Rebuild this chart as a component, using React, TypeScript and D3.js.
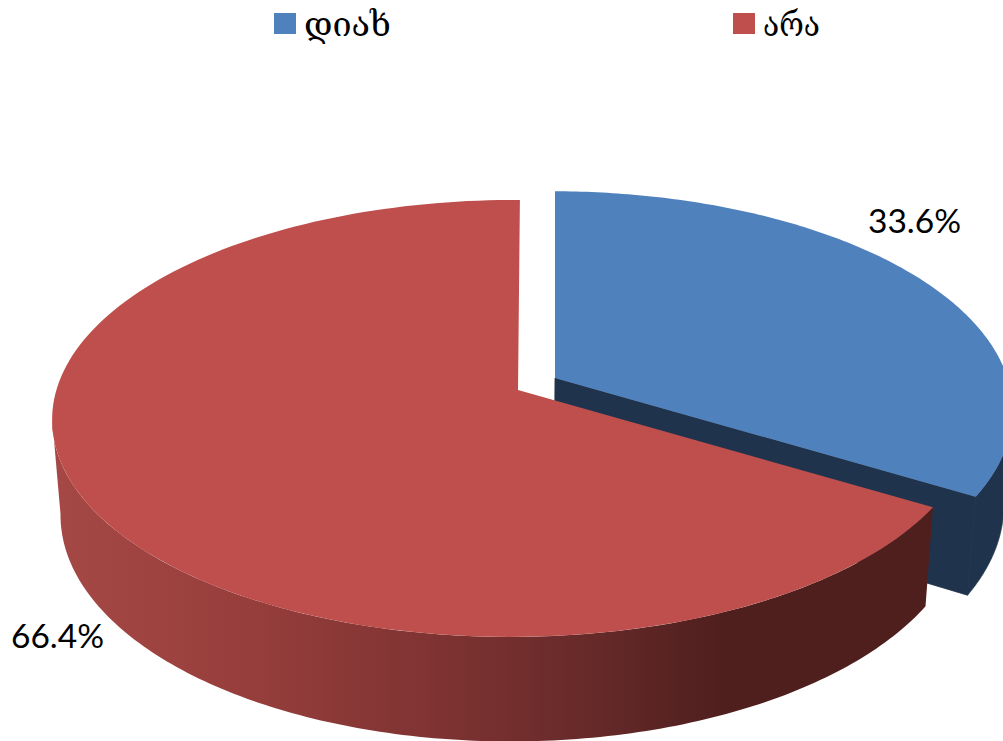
import React from "react";
import * as d3 from "d3";

const categories = ["დიახ", "არა"];
const shares = [33.6, 66.4];
const percentLabels = ["33.6%", "66.4%"];
const topColors = ["#4f81bd", "#bf4f4c"];
const W = 1003, H = 741;
const CX = 518, CY = 390, BX = 457, BY = 214.8, PU = 0.01;

type Off = { dx: number; dy: number; skew: number; pv: number };

const depthY = d3.scaleLinear().domain([507, 637]).range([606, 741.5]);
const depthX = (x: number) => CX + (x - CX) * 0.982;

function topPoint(theta: number, r: number, o: Off): [number, number] {
  const u = r * Math.sin(theta), v = r * Math.cos(theta);
  const s = 1 / (1 + o.pv * v + PU * u);
  const y = CY - BY * v * s;
  return [CX + BX * u * s + (CY - y) * o.skew + o.dx, y + o.dy];
}
function bottomPoint(theta: number, r: number, o: Off): [number, number] {
  const [x, y] = topPoint(theta, r, o);
  return [depthX(x), depthY(y)];
}
const line = d3.line();
const sweep = (a: number, b: number, n = 160) => d3.range(n + 1).map((i) => a + ((b - a) * i) / n);

const arcs = d3.pie<number>().sort(null)(shares);
const offsets: Off[] = [
  { dx: 37, dy: -12, skew: 0, pv: 0.15 },
  { dx: 0, dy: 0, skew: 0.01, pv: 0.13 },
];

const topPath = (a: number, b: number, o: Off) =>
  line([topPoint(0, 0, o), ...sweep(a, b).map((t) => topPoint(t, 1, o))])! + "Z";
const rimPath = (a: number, b: number, o: Off) =>
  line([...sweep(a, b).map((t) => topPoint(t, 1, o)), ...sweep(b, a).map((t) => bottomPoint(t, 1, o))])! + "Z";
const cutPath = (t: number, o: Off) =>
  line([topPoint(t, 0, o), topPoint(t, 1, o), bottomPoint(t, 1, o), bottomPoint(t, 0, o)])! + "Z";

const redStops: [number, string][] = [
  [0.06, "#a54845"],
  [0.25, "#963e3c"],
  [0.45, "#7c3231"],
  [0.6, "#642928"],
  [0.72, "#4f1f1e"],
  [1, "#4f1f1e"],
];

const legendX = [274, 733];
const legendTextX = [304, 763];
const legendTextLen = [87, 57];
const labelPos: [number, number][] = [[868, 233], [11, 648]];

export default function App() {
  const blue = arcs[0], red = arcs[1];
  return (
    <svg width={W} height={H} viewBox={`0 0 ${W} ${H}`} style={{ position: "fixed", left: 0, top: 0, display: "block", background: "#fff" }}>
      <defs>
        <linearGradient id="redWall" gradientUnits="userSpaceOnUse" x1={0} x2={W} y1={0} y2={0}>
          {redStops.map(([o, c]) => <stop key={o} offset={o} stopColor={c} />)}
        </linearGradient>
      </defs>
      <g fill="#1f334d" stroke="#1f334d" strokeWidth={0.8}>
        <path d={rimPath((Math.PI * 100) / 180, blue.endAngle, offsets[0])} />
        <path d={cutPath(blue.endAngle, offsets[0])} />
      </g>
      <path d={topPath(blue.startAngle, blue.endAngle, offsets[0])} fill={topColors[0]} />
      <path d={rimPath(red.startAngle, (Math.PI * 3) / 2 - 0.13, offsets[1])} fill="url(#redWall)" />
      <path d={topPath(red.startAngle, red.endAngle, offsets[1])} fill={topColors[1]} />
      {categories.map((c, i) => (
        <g key={c}>
          <rect x={legendX[i]} y={13} width={22} height={21} fill={topColors[i]} />
          <text x={legendTextX[i]} y={36} fontFamily="'DejaVu Serif'" fontSize={34} fill="#000" textLength={legendTextLen[i]} lengthAdjust="spacingAndGlyphs">{c}</text>
        </g>
      ))}
      {percentLabels.map((l, i) => (
        <text key={l} x={labelPos[i][0]} y={labelPos[i][1]} fontFamily="Lato" fontSize={33.5} fill="#000">{l}</text>
      ))}
    </svg>
  );
}
